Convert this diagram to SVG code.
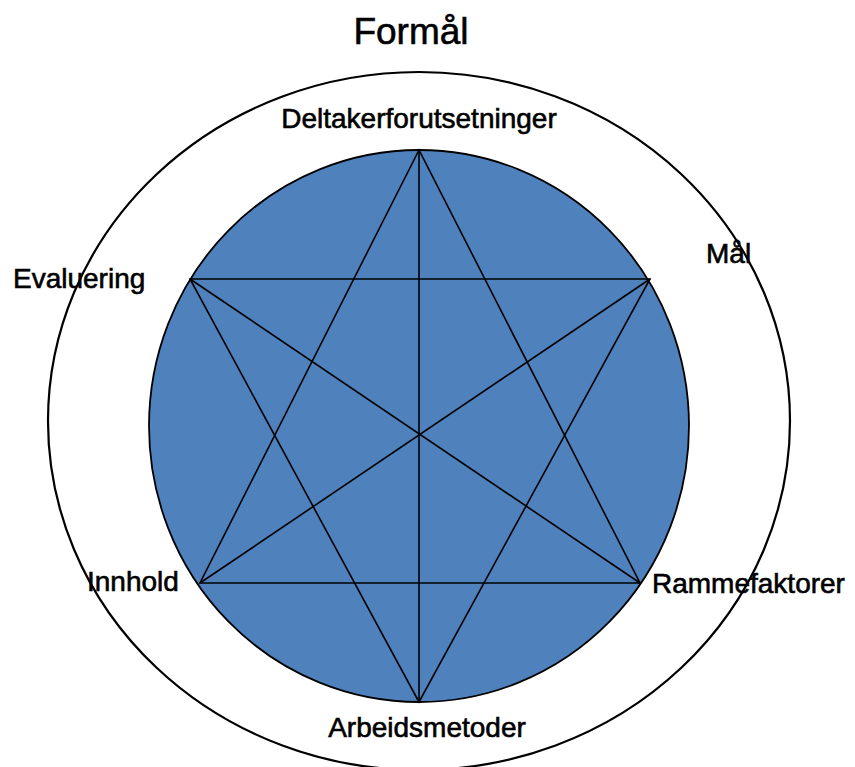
<svg xmlns="http://www.w3.org/2000/svg" width="855" height="767" viewBox="0 0 855 767">
<style>
.lbl{font-family:"Liberation Sans",Arial,sans-serif;font-size:28px;fill:#000;stroke:#000;stroke-width:0.6}
.ttl{font-family:"Liberation Sans",Arial,sans-serif;font-size:37px;fill:#000;stroke:#000;stroke-width:0.6}
.ln{stroke:#000;stroke-width:1.6;fill:none}
</style>
<rect width="855" height="767" fill="#fff"/>
<g id="outer"><ellipse cx="419" cy="421" rx="371" ry="349" fill="none" stroke="#000" stroke-width="2.2"/></g>
<g id="inner"><ellipse cx="419" cy="426" rx="270" ry="276" fill="#4F81BD" stroke="#000" stroke-width="1.8"/></g>
<g id="connectors">
<polygon class="ln" points="419,150 200,583 640,583"/>
<polygon class="ln" points="419,702 190,279 650,279"/>
<line class="ln" x1="419" y1="150" x2="419" y2="702"/>
<line class="ln" x1="190" y1="279" x2="640" y2="583"/>
<line class="ln" x1="650" y1="279" x2="200" y2="583"/>
</g>
<g id="title"><text class="ttl" x="411" y="44" text-anchor="middle">Formål</text></g>
<g id="deltaker"><text class="lbl" x="419" y="128" text-anchor="middle">Deltakerforutsetninger</text></g>
<g id="maal"><text class="lbl" x="706" y="263">Mål</text></g>
<g id="evaluering"><text class="lbl" x="13" y="288">Evaluering</text></g>
<g id="innhold"><text class="lbl" x="87" y="591">Innhold</text></g>
<g id="rammefaktorer"><text class="lbl" x="652" y="593">Rammefaktorer</text></g>
<g id="arbeidsmetoder"><text class="lbl" x="427" y="737" text-anchor="middle">Arbeidsmetoder</text></g>
</svg>
